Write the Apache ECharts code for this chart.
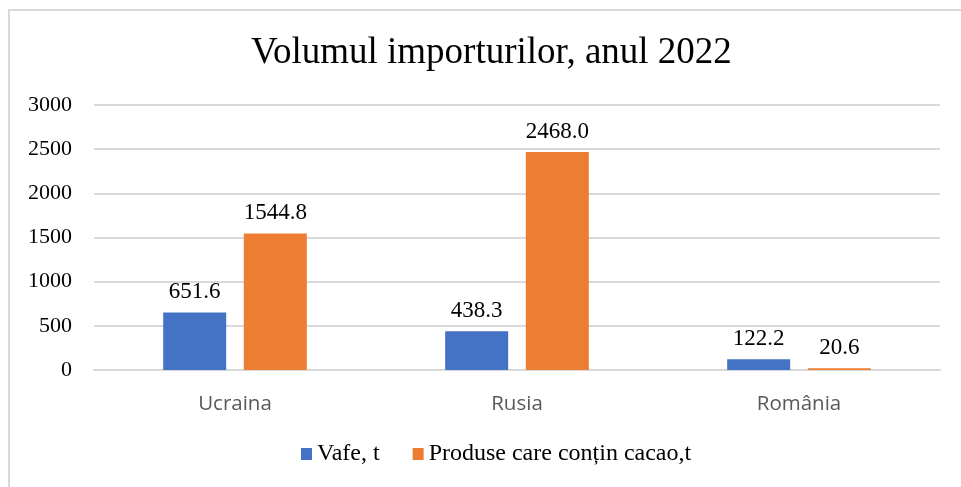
<!DOCTYPE html>
<html>
<head>
<meta charset="utf-8">
<script src="https://cdn.jsdelivr.net/npm/echarts@6/dist/echarts.min.js"></script>
<style>
  html, body { margin: 0; padding: 0; background: #fff; }
  #frame {
    position: absolute; left: 8px; top: 9px; width: 980px; height: 520px;
    border: 2px solid #d9d9d9; box-sizing: border-box;
  }
  #chart { position: absolute; left: 0; top: 0; width: 961px; height: 487px; }
</style>
</head>
<body>
<div id="frame"></div>
<div id="chart"></div>
<script>
// date
const categories = ['Ucraina', 'Rusia', 'România']
const vafe = [651.6, 438.3, 122.2]
const cacao = [1544.8, 2468.0, 20.6]
const seriesNames = ['Vafe, t', 'Produse care conțin cacao,t']

const serif = '"Liberation Serif", "Times New Roman", serif'

const labelStyle = {
  show: true,
  position: 'top',
  distance: 9,
  fontFamily: serif,
  fontSize: 23,
  color: '#000',
  formatter: p => p.value.toFixed(1)
}

const chart = echarts.init(document.getElementById('chart'))
chart.setOption({
  animation: false,
  title: {
    text: 'Volumul importurilor, anul 2022',
    left: 246,
    top: 30,
    textStyle: { fontFamily: serif, fontSize: 37, fontWeight: 'normal', color: '#000' }
  },
  legend: {
    bottom: 16,
    left: 296,
    itemWidth: 11,
    itemHeight: 12,
    itemGap: 33,
    icon: 'rect',
    textStyle: { fontFamily: serif, fontSize: 24, color: '#000' },
    data: seriesNames
  },
  grid: { left: 94, right: 21, top: 105, bottom: 117, containLabel: false },
  xAxis: {
    type: 'category',
    data: categories,
    axisLine: { lineStyle: { color: '#d9d9d9', width: 2 } },
    axisTick: { show: false },
    axisLabel: { fontFamily: '"Open Sans", "Noto Sans", sans-serif', fontSize: 20.5, color: '#595959', margin: 24 }
  },
  yAxis: {
    type: 'value',
    min: 0,
    max: 3000,
    interval: 500,
    axisLine: { show: false },
    axisTick: { show: false },
    axisLabel: { fontFamily: serif, fontSize: 22, color: '#000', margin: 22, formatter: v => String(v) },
    splitLine: { lineStyle: { color: '#d9d9d9', width: 2 } }
  },
  series: [
    {
      name: seriesNames[0], type: 'bar', data: vafe,
      itemStyle: { color: '#4472c4' },
      barWidth: 63, barGap: '28%',
      label: labelStyle
    },
    {
      name: seriesNames[1], type: 'bar', data: cacao,
      itemStyle: { color: '#ed7d31' },
      barWidth: 63,
      label: labelStyle
    }
  ]
})
</script>
</body>
</html>
